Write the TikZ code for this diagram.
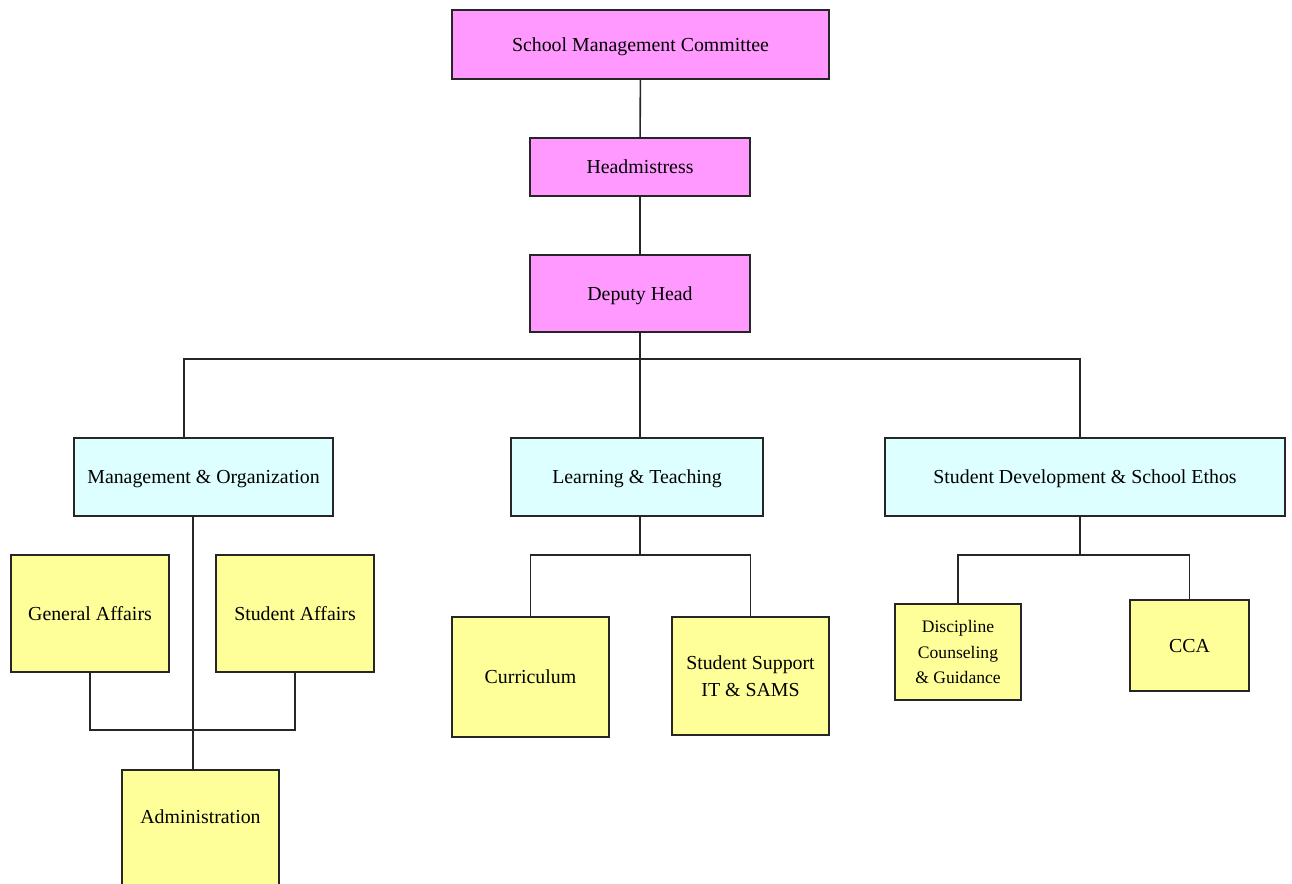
\documentclass[tikz,border=0pt]{standalone}
\usepackage{fontspec}
\setmainfont{Liberation Serif}
\usepackage{tikz}
\usetikzlibrary{shapes}
\usetikzlibrary{arrows}
\definecolor{pinkbox}{HTML}{FF99FF}
\definecolor{cyanbox}{HTML}{DDFFFF}
\definecolor{yellowbox}{HTML}{FFFF99}

\begin{document}
\begin{tikzpicture}[x=0.02cm,y=-0.02cm]
	\tikzstyle{every node}=[rectangle,draw=black!85,line width=0.9pt,font=\fontsize{11.3}{15.5}\selectfont,align=center,inner sep=2pt,text depth=0pt]
	\tikzstyle{headbox}=[fill=pinkbox]
	\tikzstyle{areabox}=[fill=cyanbox,minimum height=1.56cm]
	\tikzstyle{unitbox}=[fill=yellowbox]
	\tikzstyle{link}=[line width=0.9pt,black!85]
	
	\useasboundingbox (0,0) rectangle (1292,883);
	\clip (0,0) rectangle (1292,883);
	
	\node[headbox,minimum width=7.54cm,minimum height=1.38cm] (smc) at (640.5,44.5) {School Management Committee};
	\node[headbox,minimum width=4.4cm,minimum height=1.16cm] (hm) at (640,167) {Headmistress};
	\node[headbox,minimum width=4.4cm,minimum height=1.54cm] (dh) at (640,293.5) {Deputy Head};
	
	\node[areabox,minimum width=5.18cm] (mo) at (203.5,477) {Management \& Organization};
	\node[areabox,minimum width=5.04cm] (lt) at (637,477) {Learning \& Teaching};
	\node[areabox,minimum width=8cm] (sd) at (1085,477) {Student Development \& School Ethos};
	
	\node[unitbox,minimum width=3.16cm,minimum height=2.34cm] (ga) at (90,613.5) {General Affairs};
	\node[unitbox,minimum width=3.16cm,minimum height=2.34cm] (sa) at (295,613.5) {Student Affairs};
	\node[unitbox,anchor=north,minimum width=3.14cm,inner ysep=0pt,text height=1.08cm,text depth=1.6cm] (adm) at (200.5,769) {Administration};
	
	\node[unitbox,minimum width=3.14cm,minimum height=2.4cm] (cur) at (530.5,677) {Curriculum};
	\node[unitbox,minimum width=3.14cm,minimum height=2.36cm] (ss) at (750.5,676) {Student Support\\IT \& SAMS};
	
	\node[unitbox,minimum width=2.52cm,minimum height=1.92cm,font=\fontsize{10}{14.5}\selectfont] (dis) at (958,652) {Discipline\\Counseling\\\& Guidance};
	\node[unitbox,minimum width=2.38cm,minimum height=1.82cm] (cca) at (1189.5,645.5) {CCA};
	
	\coordinate (bus) at (640,359);
	\coordinate (moup) at (184,438);
	\coordinate (sdup) at (1080,438);
	\coordinate (modown) at (193,516);
	\coordinate (mojoin) at (193,730);
	\coordinate (ltjoin) at (640,555);
	\coordinate (sdjoin) at (1080,555);
	
	\draw[link] (smc) -- (hm);
	\draw[link] (hm) -- (dh);
	\draw[link] (dh) -- (bus);
	\draw[link] (moup) |- (bus) -| (sdup);
	\draw[link] (bus) -- (bus |- lt.north);
	
	\draw[link] (modown) -- (modown |- adm.north);
	\draw[link] (ga) |- (mojoin) -| (sa);
	
	\draw[link] (ltjoin |- lt.south) -- (ltjoin);
	\draw[link] (cur) |- (ltjoin) -| (ss);
	
	\draw[link] (sdup |- sd.south) -- (sdjoin);
	\draw[link] (dis) |- (sdjoin) -| (cca);
\end{tikzpicture}
\end{document}
